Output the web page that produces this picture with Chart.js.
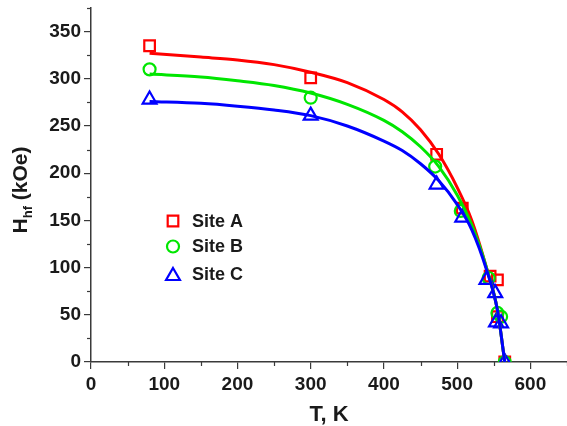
<!DOCTYPE html>
<html>
<head>
<meta charset="utf-8">
<script src="https://cdn.jsdelivr.net/npm/chart.js@4.4.1/dist/chart.umd.min.js"></script>
<style>
html,body{margin:0;padding:0;background:#fff;}
#wrap{width:567px;height:426px;position:relative;}
</style>
</head>
<body>
<div id="wrap"><canvas id="c" width="567" height="426"></canvas></div>
<script>
// Measured points
const siteA_T = [80, 300, 472, 507, 545, 555, 555, 565];
const siteA_H = [335, 301, 220, 163, 91, 87, 48, 0];
const siteB_T = [80, 300, 470, 505, 543, 555, 560, 565];
const siteB_H = [310, 280, 207, 160, 89, 52, 48, 0];
const siteC_T = [80, 300, 472, 507, 540, 552, 553, 560, 565];
const siteC_H = [278, 261, 188, 153, 87, 73, 42, 41, 0];

// Fit curves
const fitT  = [80, 150, 200, 250, 300, 350, 400, 425, 450, 475, 500, 520, 540, 555, 565];
const fitA  = [327, 323, 320, 315, 307, 296, 278, 265, 246, 220, 185, 150, 100, 55, 0];
const fitB  = [305, 302, 298, 293, 285, 273, 256, 244, 228, 207, 177, 145, 100, 55, 0];
const fitC  = [276, 274, 271, 267, 261, 250, 234, 224, 210, 192, 167, 140, 98, 55, 0];

const xTicks = [0, 100, 200, 300, 400, 500, 600];
const xMinor = [50, 150, 250, 350, 450, 550, 650];
const yTicks = [0, 50, 100, 150, 200, 250, 300, 350];
const yMinor = [25, 75, 125, 175, 225, 275, 325, 375];

const legendLabels = ['Site A', 'Site B', 'Site C'];
const RED = '#ff0000', GREEN = '#00e600', BLUE = '#0000ff';

const pts = (xs, ys) => xs.map((x, i) => ({x: x, y: ys[i]}));

const AXIS = '#3a3a3a';
const FONT = '"Liberation Sans", Arial, sans-serif';

const minorTicks = {
  id: 'minorTicks',
  afterDraw(chart) {
    const ctx = chart.ctx, xs = chart.scales.x, ys = chart.scales.y;
    ctx.save();
    ctx.strokeStyle = AXIS; ctx.lineWidth = 1.2;
    xMinor.forEach(v => {
      const px = Math.round(xs.getPixelForValue(v)) + 0.5;
      ctx.beginPath(); ctx.moveTo(px, ys.bottom); ctx.lineTo(px, ys.bottom + 4); ctx.stroke();
    });
    yMinor.forEach(v => {
      const py = Math.round(ys.getPixelForValue(v)) + 0.5;
      ctx.beginPath(); ctx.moveTo(xs.left, py); ctx.lineTo(xs.left - 4, py); ctx.stroke();
    });
    ctx.restore();
  }
};

const titles = {
  id: 'titles',
  afterDraw(chart) {
    const ctx = chart.ctx;
    ctx.save();
    ctx.fillStyle = '#1a1a1a';
    // x title
    ctx.font = 'bold 22px ' + FONT;
    ctx.textAlign = 'center'; ctx.textBaseline = 'alphabetic';
    ctx.fillText('T, K', 329, 421);
    // y title rotated with subscript
    ctx.translate(27, 190);
    ctx.rotate(-Math.PI / 2);
    ctx.textAlign = 'left';
    const big = 'bold 21px ' + FONT, small = 'bold 13px ' + FONT;
    ctx.font = big; const wH = ctx.measureText('H').width; const wRest = ctx.measureText(' (kOe)').width;
    ctx.font = small; const wSub = ctx.measureText('hf').width;
    const total = wH + wSub + wRest;
    let x0 = -total / 2;
    ctx.font = big; ctx.fillText('H', x0, 0); x0 += wH;
    ctx.font = small; ctx.fillText('hf', x0, 5); x0 += wSub;
    ctx.font = big; ctx.fillText(' (kOe)', x0, 0);
    ctx.restore();
  }
};

const legendPlugin = {
  id: 'customLegend',
  afterDraw(chart) {
    const ctx = chart.ctx;
    const items = [
      {label: legendLabels[0], color: RED, style: 'rect', r: 7.5, dy: 0},
      {label: legendLabels[1], color: GREEN, style: 'circle', r: 6, dy: 0},
      {label: legendLabels[2], color: BLUE, style: 'triangle', r: 8, dy: 2}
    ];
    const ys0 = [221, 246.5, 274];
    ctx.save();
    items.forEach((it, i) => {
      const y = ys0[i];
      ctx.strokeStyle = it.color; ctx.lineWidth = 2.2;
      ctx.fillStyle = 'rgba(0,0,0,0)';
      Chart.helpers.drawPoint(ctx, {pointStyle: it.style, radius: it.r, rotation: 0, borderWidth: 2.2}, 173, y + it.dy);
      ctx.fillStyle = '#1a1a1a';
      ctx.font = 'bold 18px ' + FONT;
      ctx.textAlign = 'left'; ctx.textBaseline = 'middle';
      ctx.fillText(it.label, 192, y + 1);
    });
    ctx.restore();
  }
};

const lineDs = (data, color, order) => ({
  data: data, showLine: true, borderColor: color, backgroundColor: color,
  borderWidth: 3, pointRadius: 0, pointHoverRadius: 0,
  cubicInterpolationMode: 'monotone', fill: false, order: order
});
const ptDs = (data, color, style, r, order) => ({
  data: data, showLine: false, borderColor: color, backgroundColor: 'rgba(0,0,0,0)',
  pointStyle: style, pointRadius: r, pointBorderWidth: 2.2, order: order
});

new Chart(document.getElementById('c'), {
  type: 'scatter',
  data: {
    datasets: [
      lineDs(pts(fitT, fitC), BLUE, 0),
      lineDs(pts(fitT, fitB), GREEN, 1),
      lineDs(pts(fitT, fitA), RED, 2),
      ptDs(pts(siteC_T, siteC_H), BLUE, 'triangle', 8, 3),
      ptDs(pts(siteB_T, siteB_H), GREEN, 'circle', 6, 4),
      ptDs(pts(siteA_T, siteA_H), RED, 'rect', 7.5, 5)
    ]
  },
  options: {
    responsive: false, animation: false, devicePixelRatio: 1,
    layout: {autoPadding: false, padding: {top: 8, right: 0, left: 0, bottom: 0}},
    plugins: {legend: {display: false}, tooltip: {enabled: false}},
    scales: {
      x: {
        type: 'linear', min: 0, max: 650,
        afterBuildTicks: s => { s.ticks = xTicks.map(v => ({value: v})); },
        afterFit: s => { s.height = 64; s.paddingLeft = 0; s.paddingRight = 0; },
        grid: {drawOnChartArea: false, drawTicks: true, tickLength: 7, color: AXIS, lineWidth: 1.2},
        border: {display: true, color: AXIS, width: 1.5},
        ticks: {color: '#1a1a1a', font: {family: FONT, size: 19, weight: 'bold'}, padding: 4, maxRotation: 0, autoSkip: false}
      },
      y: {
        type: 'linear', min: 0, max: 375,
        afterBuildTicks: s => { s.ticks = yTicks.map(v => ({value: v})); },
        afterFit: s => { s.width = 91; s.paddingTop = 0; s.paddingBottom = 0; },
        grid: {drawOnChartArea: false, drawTicks: true, tickLength: 7, color: AXIS, lineWidth: 1.2},
        border: {display: true, color: AXIS, width: 1.5},
        ticks: {color: '#1a1a1a', font: {family: FONT, size: 19, weight: 'bold'}, padding: 3, autoSkip: false}
      }
    }
  },
  plugins: [minorTicks, titles, legendPlugin]
});
</script>
</body>
</html>
